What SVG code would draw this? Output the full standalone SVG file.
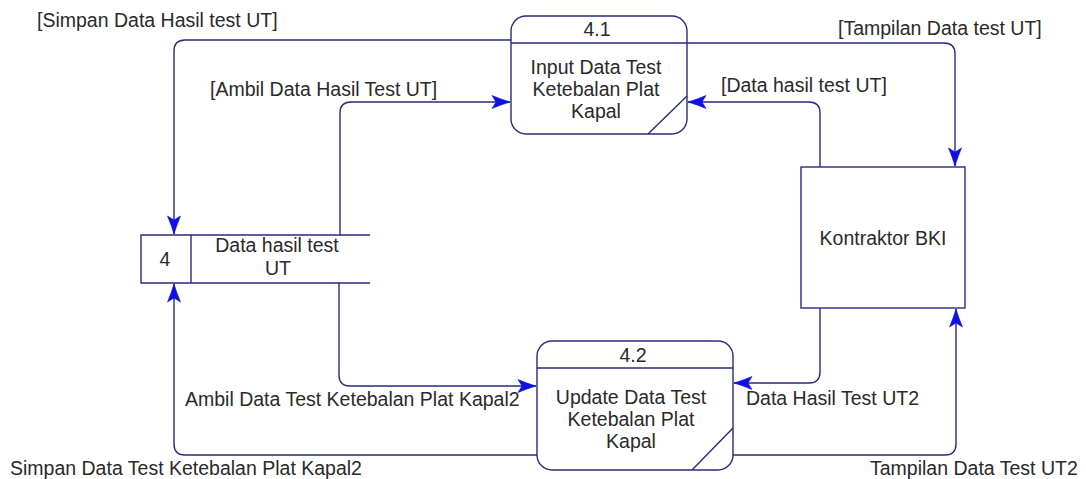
<svg xmlns="http://www.w3.org/2000/svg" width="1086" height="479" viewBox="0 0 1086 479">
  <style>
    .shape { fill: #ffffff; stroke: #2a2a80; stroke-width: 1.4; }
    .flow { fill: none; stroke: #2a2a80; stroke-width: 1.4; }
    .lbl { font-family: "Liberation Sans", Arial, sans-serif; font-size: 19.5px; fill: #2a2a2a; }
    .mid { text-anchor: middle; }
  </style>
  <defs>
    <marker id="arrow" viewBox="-19 -7 21 14" refX="0" refY="0" markerWidth="21" markerHeight="14" markerUnits="userSpaceOnUse" orient="auto">
      <path d="M0,0 L-9,-3 L-18,-6.5 L-14,0 L-18,6.5 L-9,3 Z" fill="#1010e0" stroke="#1010e0" stroke-width="0.6"/>
    </marker>
  </defs>
  <rect width="1086" height="479" fill="#ffffff"/>

  <!-- data flows -->
  <g id="connectors">
    <path class="flow" d="M511,40 H185 Q174,40 174,51 V234" marker-end="url(#arrow)"/>
    <path class="flow" d="M340,235 V113 Q340,102 351,102 H510" marker-end="url(#arrow)"/>
    <path class="flow" d="M687,43 H944 Q955,43 955,54 V166" marker-end="url(#arrow)"/>
    <path class="flow" d="M820,167 V113 Q820,102 809,102 H688" marker-end="url(#arrow)"/>
    <path class="flow" d="M820,308 V372 Q820,383 809,383 H734" marker-end="url(#arrow)"/>
    <path class="flow" d="M733,455 H945 Q956,455 956,444 V309" marker-end="url(#arrow)"/>
    <path class="flow" d="M339,283 V375 Q339,386 350,386 H536" marker-end="url(#arrow)"/>
    <path class="flow" d="M537,455 H185 Q174,455 174,444 V284" marker-end="url(#arrow)"/>
  </g>

  <!-- flow labels -->
  <g id="flow-labels">
    <text class="lbl" x="37" y="27">[Simpan Data Hasil test UT]</text>
    <text class="lbl" x="210" y="96">[Ambil Data Hasil Test UT]</text>
    <text class="lbl" x="838" y="35">[Tampilan Data test UT]</text>
    <text class="lbl" x="721" y="92">[Data hasil test UT]</text>
    <text class="lbl" x="746" y="405">Data Hasil Test UT2</text>
    <text class="lbl" x="870" y="475">Tampilan Data Test UT2</text>
    <text class="lbl" x="185" y="406">Ambil Data Test Ketebalan Plat Kapal2</text>
    <text class="lbl" x="10" y="475">Simpan Data Test Ketebalan Plat Kapal2</text>
  </g>

  <!-- process 4.1 -->
  <g id="process-4-1">
    <rect class="shape" x="511" y="16" width="176" height="118" rx="15" ry="15"/>
    <line class="flow" x1="511" y1="43" x2="687" y2="43"/>
    <line class="flow" x1="648" y1="134" x2="687" y2="96"/>
    <text class="lbl mid" x="597" y="36">4.1</text>
    <text class="lbl mid" x="596" y="74">Input Data Test</text>
    <text class="lbl mid" x="596" y="96">Ketebalan Plat</text>
    <text class="lbl mid" x="596" y="118">Kapal</text>
  </g>

  <!-- process 4.2 -->
  <g id="process-4-2">
    <rect class="shape" x="537" y="341" width="196" height="129" rx="15" ry="15"/>
    <line class="flow" x1="537" y1="368" x2="733" y2="368"/>
    <line class="flow" x1="692" y1="470" x2="733" y2="428"/>
    <text class="lbl mid" x="633" y="362">4.2</text>
    <text class="lbl mid" x="631" y="404">Update Data Test</text>
    <text class="lbl mid" x="631" y="426">Ketebalan Plat</text>
    <text class="lbl mid" x="631" y="448">Kapal</text>
  </g>

  <!-- data store 4 -->
  <g id="store-4">
    <rect x="141" y="235" width="229" height="48" fill="#ffffff"/>
    <path class="flow" d="M370,235 H141 V283 H370 M191,235 V283"/>
    <text class="lbl mid" x="165" y="266">4</text>
    <text class="lbl mid" x="277" y="252">Data hasil test</text>
    <text class="lbl mid" x="278" y="275">UT</text>
  </g>

  <!-- external entity -->
  <g id="kontraktor-bki">
    <rect class="shape" x="801" y="167" width="164" height="141"/>
    <text class="lbl mid" x="883" y="245">Kontraktor BKI</text>
  </g>
</svg>
